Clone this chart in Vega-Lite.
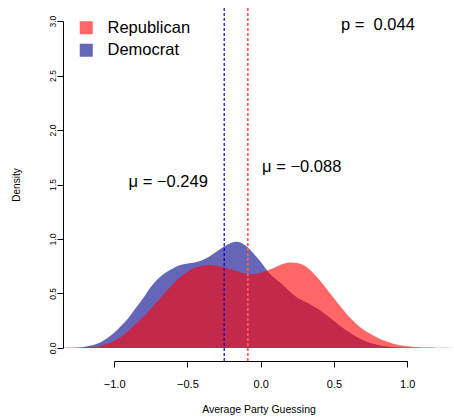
{
  "$schema": "https://vega.github.io/schema/vega-lite/v6.json",
  "width": 391,
  "height": 353,
  "autosize": {"type": "none"},
  "padding": {"left": 63, "top": 8, "right": 0, "bottom": 58},
  "background": "white",
  "config": {
    "view": {"stroke": null},
    "font": "Liberation Sans",
    "text": {"font": "Liberation Sans", "color": "black"}
  },
  "datasets": {
    "means": [
      {"party": "Democrat", "mean": -0.249},
      {"party": "Republican", "mean": -0.088}
    ],
    "dens": [
      {"party": "Democrat", "x": -1.349, "density": 0.0},
      {"party": "Democrat", "x": -1.3, "density": 0.001},
      {"party": "Democrat", "x": -1.25, "density": 0.004},
      {"party": "Democrat", "x": -1.2, "density": 0.011},
      {"party": "Democrat", "x": -1.15, "density": 0.025},
      {"party": "Democrat", "x": -1.1, "density": 0.048},
      {"party": "Democrat", "x": -1.05, "density": 0.086},
      {"party": "Democrat", "x": -1.0, "density": 0.14},
      {"party": "Democrat", "x": -0.95, "density": 0.205},
      {"party": "Democrat", "x": -0.9, "density": 0.28},
      {"party": "Democrat", "x": -0.85, "density": 0.37},
      {"party": "Democrat", "x": -0.8, "density": 0.46},
      {"party": "Democrat", "x": -0.75, "density": 0.56},
      {"party": "Democrat", "x": -0.7, "density": 0.635},
      {"party": "Democrat", "x": -0.65, "density": 0.69},
      {"party": "Democrat", "x": -0.6, "density": 0.73},
      {"party": "Democrat", "x": -0.55, "density": 0.76},
      {"party": "Democrat", "x": -0.5, "density": 0.775},
      {"party": "Democrat", "x": -0.45, "density": 0.785},
      {"party": "Democrat", "x": -0.4, "density": 0.805},
      {"party": "Democrat", "x": -0.35, "density": 0.84},
      {"party": "Democrat", "x": -0.3, "density": 0.885},
      {"party": "Democrat", "x": -0.25, "density": 0.93},
      {"party": "Democrat", "x": -0.2, "density": 0.965},
      {"party": "Democrat", "x": -0.175, "density": 0.975},
      {"party": "Democrat", "x": -0.15, "density": 0.972},
      {"party": "Democrat", "x": -0.1, "density": 0.935},
      {"party": "Democrat", "x": -0.05, "density": 0.87},
      {"party": "Democrat", "x": 0.0, "density": 0.79},
      {"party": "Democrat", "x": 0.05, "density": 0.7},
      {"party": "Democrat", "x": 0.1, "density": 0.635},
      {"party": "Democrat", "x": 0.15, "density": 0.58},
      {"party": "Democrat", "x": 0.2, "density": 0.515},
      {"party": "Democrat", "x": 0.25, "density": 0.46},
      {"party": "Democrat", "x": 0.3, "density": 0.425},
      {"party": "Democrat", "x": 0.35, "density": 0.39},
      {"party": "Democrat", "x": 0.4, "density": 0.35},
      {"party": "Democrat", "x": 0.45, "density": 0.3},
      {"party": "Democrat", "x": 0.5, "density": 0.248},
      {"party": "Democrat", "x": 0.55, "density": 0.195},
      {"party": "Democrat", "x": 0.6, "density": 0.148},
      {"party": "Democrat", "x": 0.65, "density": 0.105},
      {"party": "Democrat", "x": 0.7, "density": 0.07},
      {"party": "Democrat", "x": 0.75, "density": 0.045},
      {"party": "Democrat", "x": 0.8, "density": 0.028},
      {"party": "Democrat", "x": 0.85, "density": 0.016},
      {"party": "Democrat", "x": 0.9, "density": 0.009},
      {"party": "Democrat", "x": 0.95, "density": 0.005},
      {"party": "Democrat", "x": 1.0, "density": 0.002},
      {"party": "Democrat", "x": 1.1, "density": 0.0005},
      {"party": "Democrat", "x": 1.2, "density": 0.0},
      {"party": "Republican", "x": -1.349, "density": 0.0},
      {"party": "Republican", "x": -1.3, "density": 0.001},
      {"party": "Republican", "x": -1.25, "density": 0.002},
      {"party": "Republican", "x": -1.2, "density": 0.004},
      {"party": "Republican", "x": -1.15, "density": 0.008},
      {"party": "Republican", "x": -1.1, "density": 0.018},
      {"party": "Republican", "x": -1.05, "density": 0.036},
      {"party": "Republican", "x": -1.0, "density": 0.065},
      {"party": "Republican", "x": -0.95, "density": 0.105},
      {"party": "Republican", "x": -0.9, "density": 0.16},
      {"party": "Republican", "x": -0.85, "density": 0.225},
      {"party": "Republican", "x": -0.8, "density": 0.285},
      {"party": "Republican", "x": -0.75, "density": 0.36},
      {"party": "Republican", "x": -0.7, "density": 0.435},
      {"party": "Republican", "x": -0.65, "density": 0.51},
      {"party": "Republican", "x": -0.6, "density": 0.585},
      {"party": "Republican", "x": -0.55, "density": 0.65},
      {"party": "Republican", "x": -0.5, "density": 0.7},
      {"party": "Republican", "x": -0.45, "density": 0.735},
      {"party": "Republican", "x": -0.4, "density": 0.753},
      {"party": "Republican", "x": -0.35, "density": 0.76},
      {"party": "Republican", "x": -0.3, "density": 0.755},
      {"party": "Republican", "x": -0.25, "density": 0.74},
      {"party": "Republican", "x": -0.2, "density": 0.72},
      {"party": "Republican", "x": -0.15, "density": 0.7},
      {"party": "Republican", "x": -0.1, "density": 0.682},
      {"party": "Republican", "x": -0.05, "density": 0.677},
      {"party": "Republican", "x": 0.0, "density": 0.69},
      {"party": "Republican", "x": 0.05, "density": 0.712},
      {"party": "Republican", "x": 0.1, "density": 0.74},
      {"party": "Republican", "x": 0.15, "density": 0.77},
      {"party": "Republican", "x": 0.2, "density": 0.785},
      {"party": "Republican", "x": 0.25, "density": 0.78},
      {"party": "Republican", "x": 0.3, "density": 0.755},
      {"party": "Republican", "x": 0.35, "density": 0.7},
      {"party": "Republican", "x": 0.4, "density": 0.625},
      {"party": "Republican", "x": 0.45, "density": 0.54},
      {"party": "Republican", "x": 0.5, "density": 0.455},
      {"party": "Republican", "x": 0.55, "density": 0.37},
      {"party": "Republican", "x": 0.6, "density": 0.29},
      {"party": "Republican", "x": 0.65, "density": 0.225},
      {"party": "Republican", "x": 0.7, "density": 0.17},
      {"party": "Republican", "x": 0.75, "density": 0.128},
      {"party": "Republican", "x": 0.8, "density": 0.092},
      {"party": "Republican", "x": 0.85, "density": 0.063},
      {"party": "Republican", "x": 0.9, "density": 0.04},
      {"party": "Republican", "x": 0.95, "density": 0.025},
      {"party": "Republican", "x": 1.0, "density": 0.015},
      {"party": "Republican", "x": 1.05, "density": 0.009},
      {"party": "Republican", "x": 1.1, "density": 0.005},
      {"party": "Republican", "x": 1.15, "density": 0.003},
      {"party": "Republican", "x": 1.2, "density": 0.0015},
      {"party": "Republican", "x": 1.25, "density": 0.0007},
      {"party": "Republican", "x": 1.319, "density": 0.0}
    ]
  },
  "layer": [
    {
      "data": {"name": "dens"},
      "transform": [{"filter": "datum.party === 'Democrat'"}],
      "mark": {"type": "area", "interpolate": "monotone", "fillOpacity": 0.6},
      "encoding": {
        "x": {
          "field": "x",
          "type": "quantitative",
          "scale": {"domain": [-1.349, 1.319], "nice": false, "zero": false},
          "axis": {
            "title": "Average Party Guessing",
            "values": [-1, -0.5, 0, 0.5, 1],
            "format": ".1f",
            "grid": false,
            "zindex": 1,
            "domain": true,
            "domainColor": "black",
            "domainWidth": 1,
            "domainDash": [293.1, 1000],
            "domainDashOffset": 1241.95,
            "ticks": true,
            "tickSize": 6,
            "tickColor": "black",
            "tickWidth": 1,
            "labelFont": "Liberation Sans",
            "labelFontSize": 11,
            "labelColor": "black",
            "labelPadding": 11,
            "titleFont": "Liberation Sans",
            "titleFontSize": 10.5,
            "titleFontWeight": "normal",
            "titleColor": "black",
            "titlePadding": 15
          }
        },
        "y": {
          "field": "density",
          "type": "quantitative",
          "stack": null,
          "scale": {"domain": [-0.12, 3.12], "nice": false, "zero": false},
          "axis": {
            "title": "Density",
            "values": [0, 0.5, 1, 1.5, 2, 2.5, 3],
            "format": ".1f",
            "grid": false,
            "zindex": 1,
            "domain": true,
            "domainColor": "black",
            "domainWidth": 1,
            "domainDash": [326.86, 1000],
            "domainDashOffset": 1313.79,
            "ticks": true,
            "tickSize": 6,
            "tickColor": "black",
            "tickWidth": 1,
            "labelAngle": -90,
            "labelAlign": "center",
            "labelBaseline": "alphabetic",
            "labelFont": "Liberation Sans",
            "labelFontSize": 8.5,
            "labelColor": "black",
            "labelPadding": 2,
            "titleFont": "Liberation Sans",
            "titleFontSize": 10,
            "titleFontWeight": "normal",
            "titleColor": "black",
            "titlePadding": 27
          }
        },
        "color": {
          "field": "party",
          "type": "nominal",
          "scale": {"domain": ["Republican", "Democrat"], "range": ["#FF0000", "#00008B"]},
          "legend": {
            "orient": "none",
            "legendX": 15,
            "legendY": 11.5,
            "title": null,
            "padding": 0,
            "symbolType": "square",
            "symbolSize": 169,
            "symbolOpacity": 0.6,
            "symbolStrokeWidth": 0,
            "labelFont": "Liberation Sans",
            "labelFontSize": 16.5,
            "labelColor": "black",
            "labelOffset": 13,
            "rowPadding": 5.5
          }
        }
      }
    },
    {
      "data": {"name": "dens"},
      "transform": [{"filter": "datum.party === 'Republican'"}],
      "mark": {"type": "area", "interpolate": "monotone", "fillOpacity": 0.6},
      "encoding": {
        "x": {"field": "x", "type": "quantitative"},
        "y": {"field": "density", "type": "quantitative", "stack": null},
        "color": {"field": "party", "type": "nominal"}
      }
    },
    {
      "data": {"name": "means"},
      "transform": [{"filter": "datum.party === 'Democrat'"}],
      "mark": {"type": "rule", "color": "#0000CD", "strokeWidth": 1.2, "strokeDash": [3, 2]},
      "encoding": {"x": {"field": "mean", "type": "quantitative"}}
    },
    {
      "data": {"name": "means"},
      "transform": [{"filter": "datum.party === 'Republican'"}],
      "mark": {"type": "rule", "color": "#FF5C5C", "strokeWidth": 1.8, "strokeDash": [3, 2]},
      "encoding": {"x": {"field": "mean", "type": "quantitative"}}
    },
    {
      "data": {"values": [{}]},
      "mark": {"type": "text", "fontSize": 16.5, "align": "center", "baseline": "alphabetic"},
      "encoding": {"x": {"datum": -0.631}, "y": {"datum": 1.474}, "text": {"value": "μ = −0.249"}}
    },
    {
      "data": {"values": [{}]},
      "mark": {"type": "text", "fontSize": 16.5, "align": "center", "baseline": "alphabetic"},
      "encoding": {"x": {"datum": 0.28}, "y": {"datum": 1.617}, "text": {"value": "μ = −0.088"}}
    },
    {
      "data": {"values": [{}]},
      "mark": {"type": "text", "fontSize": 16.5, "align": "center", "baseline": "alphabetic"},
      "encoding": {"x": {"datum": 0.8}, "y": {"datum": 2.916}, "text": {"value": "p = \u00a00.044"}}
    }
  ]
}
